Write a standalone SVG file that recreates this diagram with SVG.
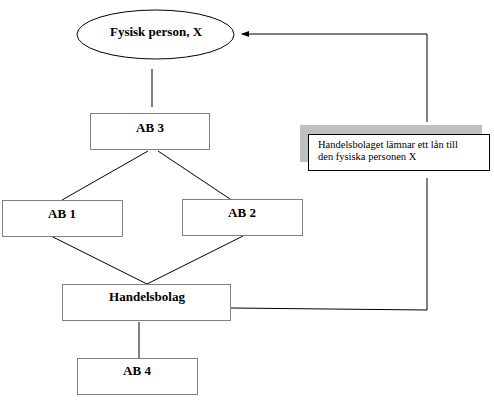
<svg xmlns="http://www.w3.org/2000/svg" width="494" height="407" viewBox="0 0 494 407">
<style>
.box{fill:#fff;stroke:#808080;stroke-width:1}
.lbl{font-family:"Liberation Serif","Times New Roman",serif;font-weight:bold;font-size:13px;text-anchor:middle;fill:#000}
.note{font-family:"Liberation Serif","Times New Roman",serif;font-size:10.5px;fill:#000}
.ln{stroke:#000;stroke-width:1;fill:none}
</style>
<defs>
<marker id="ah" markerWidth="8" markerHeight="6" refX="7" refY="3" orient="auto" markerUnits="userSpaceOnUse">
<path d="M0,0 L8,3 L0,6 Z" fill="#000"/>
</marker>
</defs>
<rect width="494" height="407" fill="#fff"/>
<g id="connectors">
<line class="ln" x1="152" y1="69" x2="152" y2="107"/>
<line class="ln" x1="148" y1="151" x2="62" y2="200"/>
<line class="ln" x1="158" y1="151" x2="230" y2="199"/>
<line class="ln" x1="51" y1="236" x2="147" y2="284"/>
<line class="ln" x1="243" y1="236" x2="147" y2="284"/>
<line class="ln" x1="139" y1="322" x2="139" y2="358"/>
<polyline class="ln" points="231,308 427,310 427,178"/>
<polyline class="ln" points="427,122 427,34 242,34" marker-end="url(#ah)"/>
</g>
<g id="fysisk">
<ellipse cx="155.5" cy="34.5" rx="78.5" ry="24.5" fill="#fff" stroke="#000"/>
<text class="lbl" x="156" y="36">Fysisk person, X</text>
</g>
<g id="ab3">
<rect class="box" x="90.5" y="113.5" width="119" height="36"/>
<text class="lbl" x="150" y="132">AB 3</text>
</g>
<g id="ab1">
<rect class="box" x="2.5" y="200.5" width="120" height="36"/>
<text class="lbl" x="62" y="218">AB 1</text>
</g>
<g id="ab2">
<rect class="box" x="182.5" y="199.5" width="120" height="36"/>
<text class="lbl" x="242" y="217">AB 2</text>
</g>
<g id="handelsbolag">
<rect class="box" x="62.5" y="284.5" width="168" height="36"/>
<text class="lbl" x="147" y="301">Handelsbolag</text>
</g>
<g id="ab4">
<rect class="box" x="77.5" y="358.5" width="120" height="36"/>
<text class="lbl" x="137" y="375">AB 4</text>
</g>
<g id="note">
<rect x="300" y="125" width="182" height="37" fill="#c0c0c0"/>
<rect x="308.5" y="134.5" width="181" height="36" fill="#fff" stroke="#000"/>
<text class="note" x="318" y="148">Handelsbolaget lämnar ett lån till</text>
<text class="note" x="318" y="160">den fysiska personen X</text>
</g>
</svg>
